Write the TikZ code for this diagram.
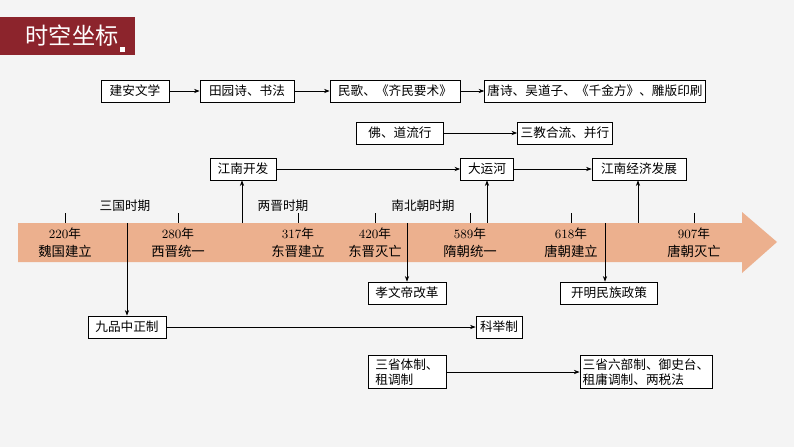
\documentclass[tikz,border=0pt]{standalone}
\usepackage{fontspec}
\newfontfamily\cjk{Noto Sans CJK SC}
\usetikzlibrary{arrows.meta}
\definecolor{bandc}{RGB}{236,176,142}
\definecolor{titlec}{RGB}{140,36,44}
\definecolor{bgc}{RGB}{244,244,244}
\begin{document}
\begin{tikzpicture}[x=0.025cm,y=-0.025cm, >={Stealth[length=4pt,width=3pt]},
  box/.style={draw, fill=white, line width=0.5pt, inner sep=2pt, minimum height=0.55cm, font=\cjk\fontsize{9}{11}\selectfont},
  era/.style={font=\cjk\fontsize{9}{11}\selectfont},
  year/.style={inner sep=0pt, font=\fontsize{9}{10}\selectfont},
  event/.style={inner sep=0pt, font=\cjk\fontsize{9.5}{10}\selectfont},
  conn/.style={->, line width=0.5pt}]

% Background and title
\fill[bgc] (0,0) rectangle (794,447);
\useasboundingbox (0,0) rectangle (794,447);
\fill[titlec] (0,17) rectangle (135,55);
\node[text=white, font=\cjk\fontsize{16.5}{18}\selectfont] (title) at (72,36) {时空坐标};
\fill[white] (120,47) rectangle (125,52);

% Time band
\fill[bandc] (18,223) -- (742,223) -- (742,212) -- (777,242) -- (742,273) -- (742,262) -- (18,262) -- cycle;
\foreach \x/\y/\e in {65/220/魏国建立, 178/280/西晋统一, 298/317/东晋建立, 375/420/东晋灭亡,
                      470/589/隋朝统一, 571/618/唐朝建立, 694/907/唐朝灭亡}{
  \draw[line width=0.5pt] (\x,213) -- (\x,223);
  \node[year] at (\x,234) {\y{\cjk 年}};
  \node[event] at (\x,251) {\e};
}
\coordinate (band-a) at (127,223);
\coordinate (band-b) at (242,223);
\coordinate (band-c) at (407,223);
\coordinate (band-d) at (487,223);
\coordinate (band-e) at (605,223);
\coordinate (band-f) at (638,223);

% Eras
\node[era] (sanguo) at (125,206) {三国时期};
\node[era] (liangjin) at (283,206) {两晋时期};
\node[era] (nanbei) at (423,206) {南北朝时期};

% Culture row
\node[box, minimum width=68*0.025cm] (jianan) at (135,91) {建安文学};
\node[box, minimum width=94*0.025cm] (tianyuan) at (247,91) {田园诗、书法};
\node[box, minimum width=130*0.025cm] (minge) at (395,91) {民歌、《齐民要术》};
\node[box, minimum width=210*0.025cm] (tangshi) at (595,91) {唐诗、吴道子、《千金方》、雕版印刷};
\draw[conn] (jianan) -- (tianyuan);
\draw[conn] (tianyuan) -- (minge);
\draw[conn] (minge) -- (tangshi);

\node[box, minimum width=87*0.025cm] (fodao) at (400,133) {佛、道流行};
\node[box, minimum width=95*0.025cm] (sanjiao) at (565,133) {三教合流、并行};
\draw[conn] (fodao) -- (sanjiao);

% Economy row
\node[box, minimum width=66*0.025cm] (jiangnan) at (243,169) {江南开发};
\node[box, minimum width=53*0.025cm] (yunhe) at (487,169) {大运河};
\node[box, minimum width=94*0.025cm] (jingji) at (639,169) {江南经济发展};
\draw[conn] (jiangnan) -- (yunhe);
\draw[conn] (yunhe) -- (jingji);
\draw[conn] (band-b) -- (band-b |- jiangnan.south);
\draw[conn] (band-d) -- (yunhe.south);
\draw[conn] (band-f) -- (band-f |- jingji.south);

% Below the band
\node[box, minimum width=78*0.025cm] (xiaowen) at (407,293) {孝文帝改革};
\node[box, minimum width=97*0.025cm] (kaiming) at (609,293) {开明民族政策};
\draw[conn] (band-c) -- (xiaowen.north);
\draw[conn] (band-e) -- (band-e |- kaiming.north);

\node[box, minimum width=78*0.025cm] (jiupin) at (127,327) {九品中正制};
\node[box, minimum width=46*0.025cm] (keju) at (499,327) {科举制};
\draw[conn] (band-a) -- (jiupin.north);
\draw[conn] (jiupin) -- (keju);

\node[box, minimum width=78*0.025cm, align=left] (sansheng) at (407,372) {三省体制、\\租调制};
\node[box, minimum width=115*0.025cm, align=left] (liubu) at (646,372) {三省六部制、御史台、\\租庸调制、两税法};
\draw[conn] (sansheng) -- (liubu);

\end{tikzpicture}
\end{document}
